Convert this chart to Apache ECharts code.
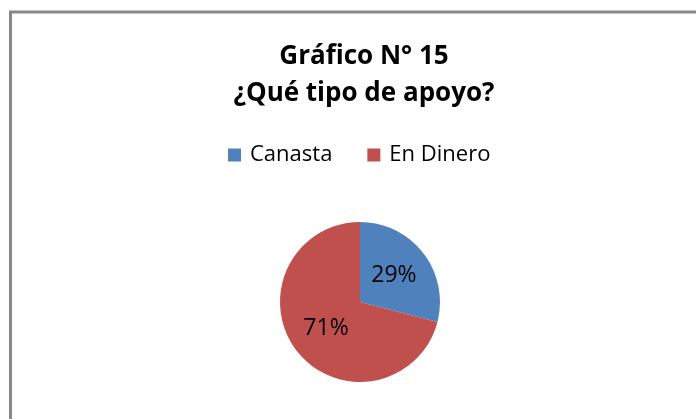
<!DOCTYPE html>
<html>
<head>
<meta charset="utf-8">
<script src="https://cdn.jsdelivr.net/npm/echarts@6/dist/echarts.min.js"></script>
<style>
  html, body { margin: 0; padding: 0; background: #fff; }
  #chart { width: 696px; height: 419px; }
</style>
</head>
<body>
<div id="chart"></div>
<script>
// Datos del gráfico
const categorias = ['Canasta', 'En Dinero'];
const valores = [29, 71];
const colores = ['#4F81BD', '#C0504D'];

const chart = echarts.init(document.getElementById('chart'));

const option = {
    animation: false,
    backgroundColor: '#fff',
    title: {
        text: 'Gráfico N° 15\n¿Qué tipo de apoyo?',
        left: 359,
        top: 33,
        textAlign: 'center',
        textStyle: {
            fontFamily: 'Open Sans',
            fontWeight: 'bold',
            fontSize: 26,
            lineHeight: 37,
            color: '#000'
        }
    },
    legend: {
        data: categorias,
        left: 223,
        top: 139,
        itemWidth: 13,
        itemHeight: 13,
        itemGap: 35,
        icon: 'rect',
        textStyle: {
            fontFamily: 'Open Sans',
            fontSize: 22,
            color: '#000',
            padding: [0, 0, 0, 4]
        }
    },
    graphic: [{
        type: 'rect',
        shape: { x: 10.5, y: 12, width: 800, height: 500 },
        style: { fill: 'none', stroke: '#878787', lineWidth: 3 },
        silent: true
    }],
    series: [{
        type: 'pie',
        center: [360, 302],
        radius: [0, 80],
        startAngle: 90,
        clockwise: true,
        label: {
            show: true,
            position: 'inside',
            formatter: '{d}%',
            fontFamily: 'Open Sans',
            fontSize: 23,
            color: '#000'
        },
        labelLine: { show: false },
        itemStyle: { borderWidth: 0 },
        emphasis: { disabled: true },
        data: categorias.map((nombre, i) => ({
            name: nombre,
            value: valores[i],
            itemStyle: { color: colores[i] }
        }))
    }]
};

chart.setOption(option);
</script>
</body>
</html>
